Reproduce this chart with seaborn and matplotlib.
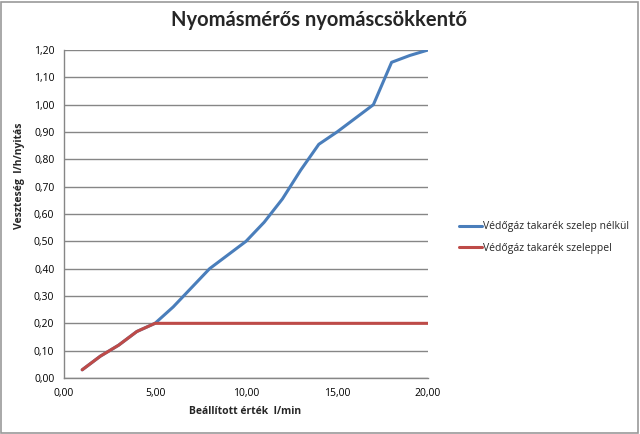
import matplotlib
matplotlib.use("Agg")
import matplotlib.pyplot as plt
import seaborn as sns
import pandas as pd
from matplotlib.ticker import FuncFormatter, MultipleLocator
from matplotlib.patches import Rectangle

x_values = [1, 2, 3, 4, 5, 6, 7, 8, 9, 10, 11, 12, 13, 14, 15, 16, 17, 18, 19, 20]
blue_values = [0.03, 0.08, 0.12, 0.17, 0.20, 0.26, 0.33, 0.40, 0.45, 0.50,
               0.57, 0.655, 0.76, 0.855, 0.90, 0.95, 1.00, 1.155, 1.18, 1.20]
red_values = [0.03, 0.08, 0.12, 0.17, 0.20, 0.20, 0.20, 0.20, 0.20, 0.20,
              0.20, 0.20, 0.20, 0.20, 0.20, 0.20, 0.20, 0.20, 0.20, 0.20]
series_names = ["Védőgáz takarék szelep nélkül", "Védőgáz takarék szeleppel"]
title = "Nyomásmérős nyomáscsökkentő"
xlabel = "Beállított érték  l/min"
ylabel = "Veszteség  l/h/nyitás"

df = pd.concat([
    pd.DataFrame({"x": x_values, "y": blue_values, "s": series_names[0]}),
    pd.DataFrame({"x": x_values, "y": red_values, "s": series_names[1]}),
])

sns.set_theme(style="white")
plt.rcParams['font.family'] = ['Open Sans', 'DejaVu Sans']

fig = plt.figure(figsize=(6.4, 4.34), dpi=100)
ax = fig.add_axes([64/640, 1-378/434, (428-64)/640, (378-50)/434])

palette = {series_names[0]: "#4A7EBB", series_names[1]: "#BE4B48"}
sns.lineplot(data=df, x="x", y="y", hue="s", palette=palette, ax=ax,
             linewidth=2.2, legend=True)

ax.set_xlim(0, 20)
ax.set_ylim(0, 1.2)
ax.xaxis.set_major_locator(MultipleLocator(5))
ax.yaxis.set_major_locator(MultipleLocator(0.1))
fmt = FuncFormatter(lambda v, p: f"{v:.2f}".replace(".", ","))
ax.xaxis.set_major_formatter(fmt)
ax.yaxis.set_major_formatter(fmt)
ax.grid(axis="y", color="#868686", linewidth=1)
ax.set_axisbelow(True)
for s in ["top", "right"]:
    ax.spines[s].set_visible(False)
for s in ["left", "bottom"]:
    ax.spines[s].set_color("#868686")
    ax.spines[s].set_linewidth(1)
ax.tick_params(axis="both", which="major", direction="out", length=4,
               width=1, color="#868686", labelsize=7.5, labelcolor="black", pad=3)
ax.set_xlabel("")
ax.set_ylabel("")

leg = ax.legend(loc="upper left", bbox_to_anchor=(450/640, 1-212/434),
                bbox_transform=fig.transFigure, frameon=False, fontsize=7.5,
                handlelength=2.2, handletextpad=0.1, labelspacing=1.0)

fig.text(319/640, 1-20/434, title, ha="center", va="center", fontsize=14.5,
         fontweight="bold", family=["Lato", "Open Sans", "DejaVu Sans"])
fig.text(245/640, 1-411/434, xlabel, ha="center", va="center", fontsize=7.5,
         fontweight="bold")
fig.text(20/640, 1-176/434, ylabel, ha="center", va="center", fontsize=7.5,
         fontweight="bold", rotation=90)

fig.patches.append(Rectangle((0.002, 0.003), 0.995, 0.993, transform=fig.transFigure,
                             fill=False, edgecolor="#9a9a9a", linewidth=1.2))

fig.savefig("out.png", dpi=100)
